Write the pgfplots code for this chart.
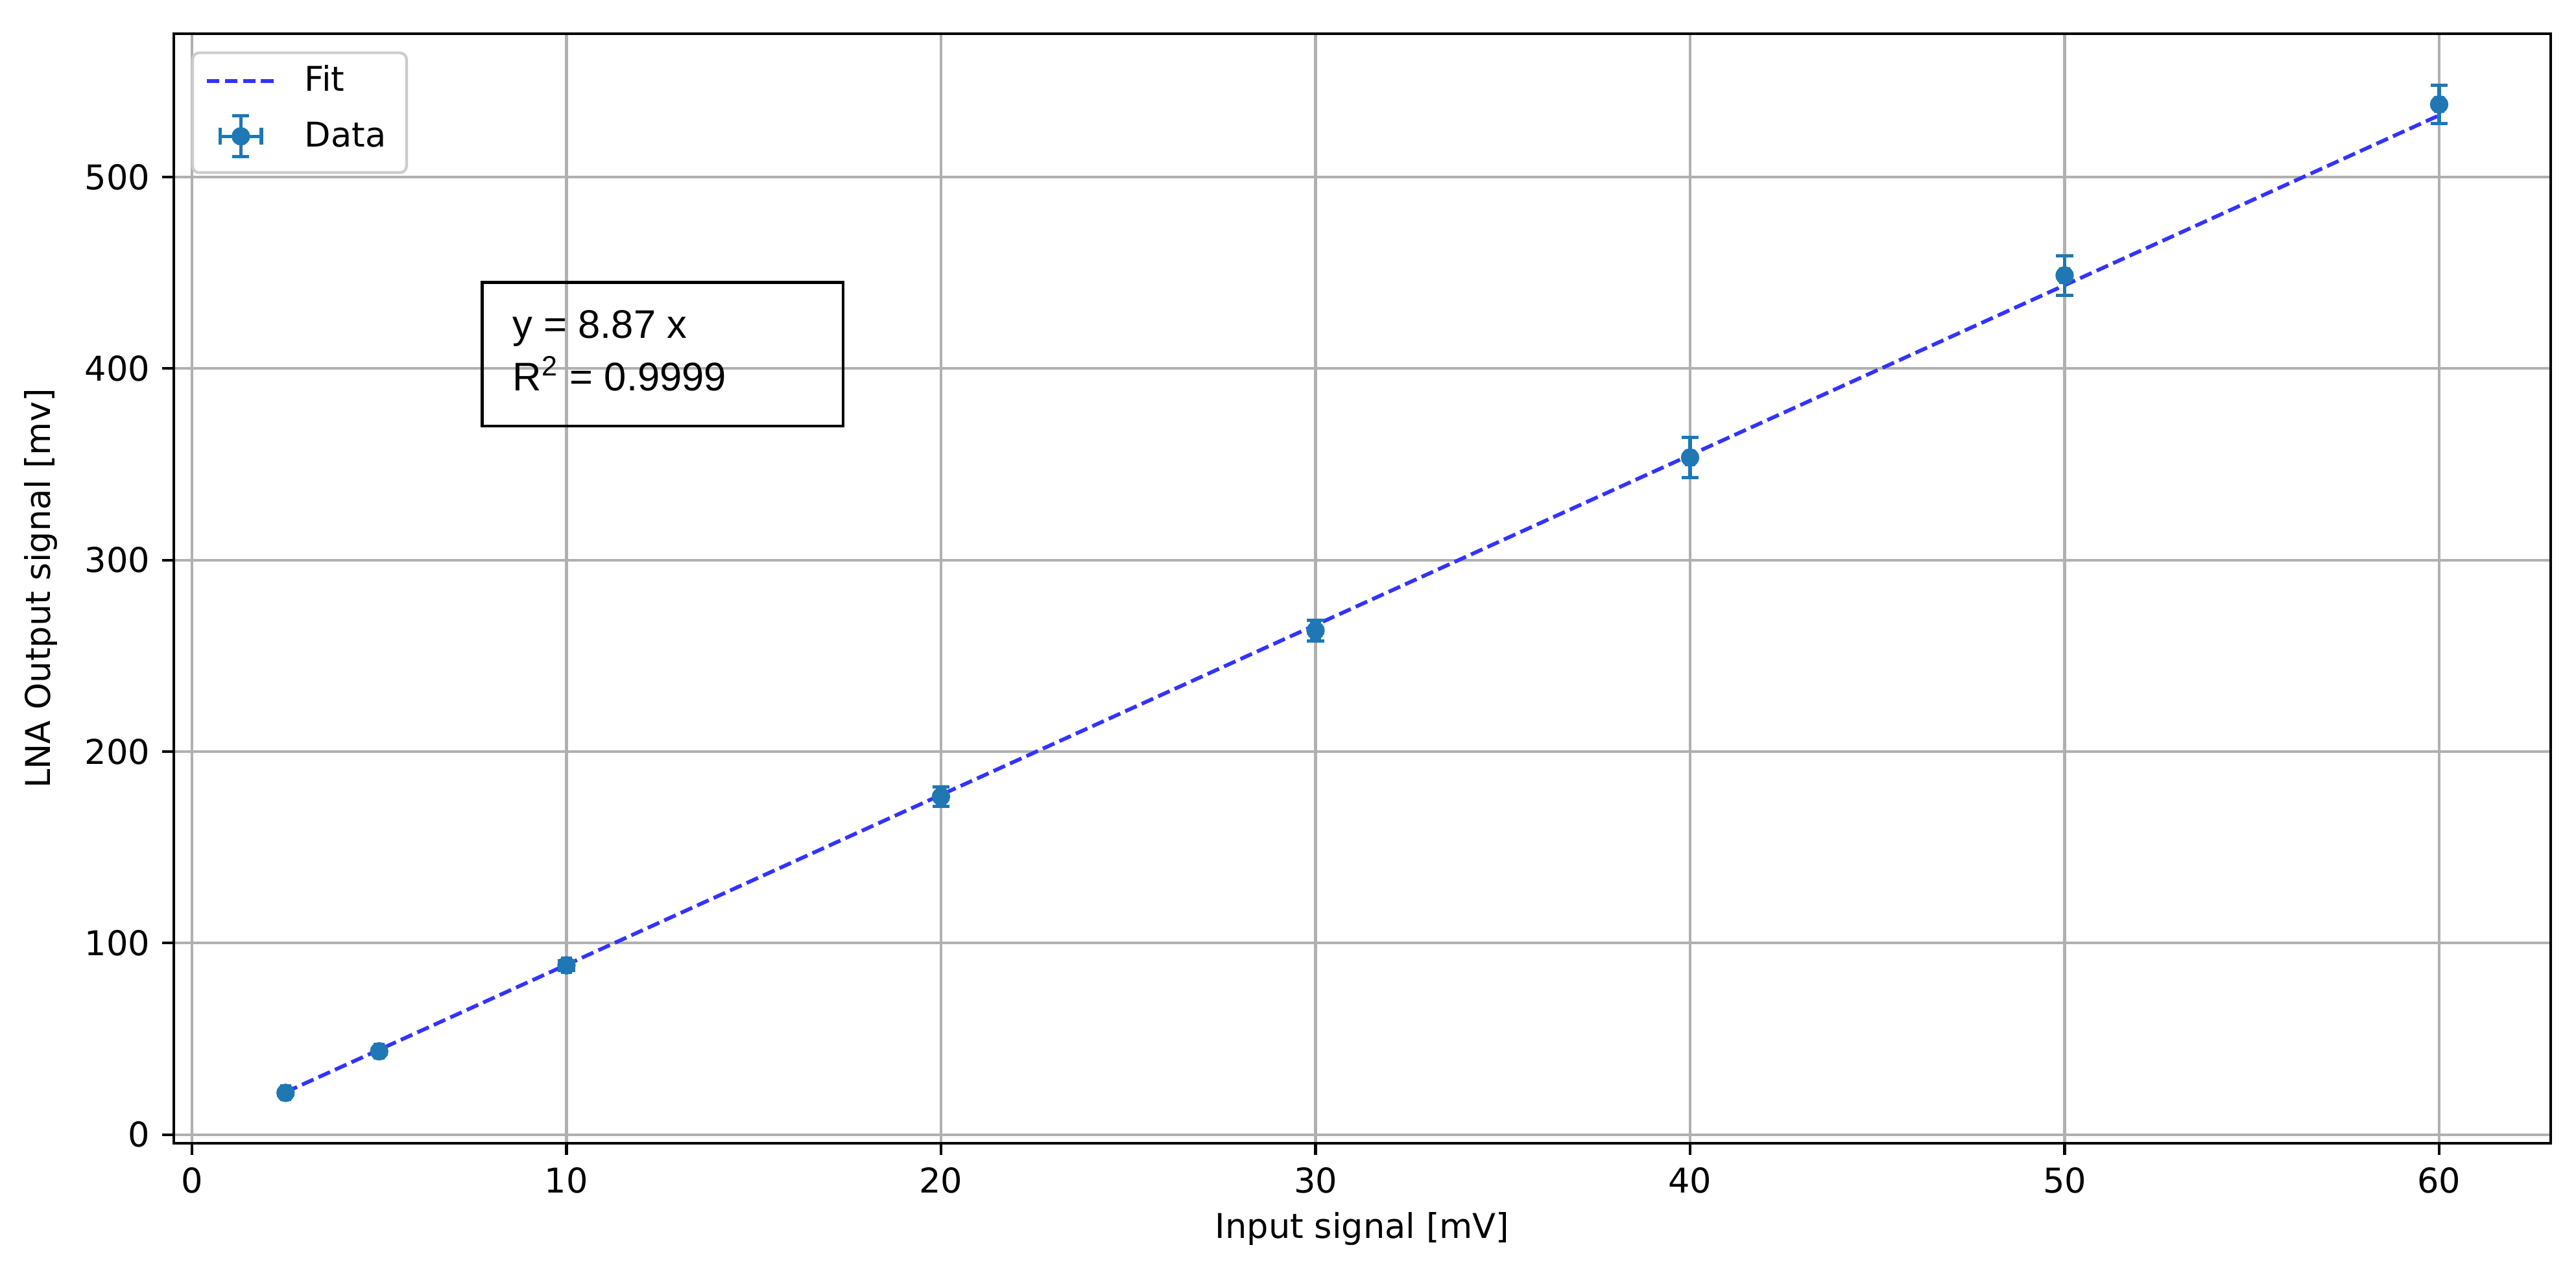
\documentclass[border=0pt]{standalone}
\usepackage{fontspec}
\setmainfont{DejaVu Sans}
\newfontfamily\arialfont{Liberation Sans}
\usepackage{pgfplots}
\pgfplotsset{compat=1.18}
\definecolor{c0}{HTML}{1F77B4}
\definecolor{fitcol}{RGB}{51,51,255}
\definecolor{gridgray}{HTML}{B0B0B0}
\definecolor{legedge}{HTML}{CCCCCC}
\pgfplotstableread{
x y ex ey
2.5 21.8 0.1 1.0
5 43.5 0.1 1.5
10 88.4 0.1 2.5
20 176.5 0.1 5.0
30 263.2 0.1 5.4
40 353.5 0.1 10.5
50 448.6 0.1 10.3
60 537.9 0.1 10.0
}\datatable
\begin{document}
\begin{tikzpicture}
\path[use as bounding box] (-51pt,-37.3pt) rectangle (704.2pt,335.2pt);
\begin{axis}[
  at={(0,0)}, anchor=south west,
  scale only axis, width=696.8pt, height=325.3pt,
  xmin=-0.48, xmax=62.98, ymin=-4.5, ymax=574.8,
  xtick={0,10,...,60}, ytick={0,100,...,500},
  grid=major, major grid style={gridgray, line width=0.8pt},
  axis line style={line width=0.8pt},
  tick align=outside, major tick length=3.5pt,
  tick style={line width=0.8pt, black},
  xtick pos=left, ytick pos=left,
  /pgf/number format/assume math mode=true,
  ticklabel style={font=\fontsize{10}{12}\selectfont},
  label style={font=\fontsize{10}{12}\selectfont},
  xlabel={Input signal [mV]}, ylabel={LNA Output signal [mv]},
  xlabel style={at={(axis description cs:0.5,-0.0772)}, anchor=center},
  ylabel style={at={(axis description cs:-0.056,0.5)}, anchor=center},
  legend cell align=left,
  legend style={at={(axis description cs:0.00783,0.98287)}, anchor=north west,
    draw=none, fill=none,
    font=\fontsize{10}{12}\selectfont, inner xsep=3.4pt, inner ysep=0pt,
    row sep=0pt,
    nodes={inner xsep=2pt, inner ysep=2pt, text height=9.1pt, text depth=3.1pt}},
]
\draw[legedge, fill=white, line width=0.8pt, rounded corners=2pt]
  (axis description cs:0.00783,0.87475) rectangle (axis description cs:0.09787,0.98287);
\addplot[fitcol, line width=1.1pt, dash pattern=on 3.7pt off 1.6pt,
  legend image code/.code={
    \path[draw=none, fill=none] (0pt,-1pt) rectangle (26.7pt,1pt);
    \draw[fitcol, line width=1.1pt, dash pattern=on 3.7pt off 1.6pt, sharp corners] (0pt,0pt)--(20pt,0pt);
  }] coordinates {(2.5,22.175) (60,532.2)};
\addlegendentry{Fit}
\addplot[only marks, mark=*, mark size=2.5pt, color=c0, mark options={fill=c0, draw=c0},
  legend image code/.code={
    \path[draw=none, fill=none] (0pt,-1pt) rectangle (26.7pt,1pt);
    \draw[c0, line width=1pt, sharp corners, solid]
      (4pt,0pt)--(16pt,0pt) (10pt,-6pt)--(10pt,6pt)
      (4pt,-2.5pt)--(4pt,2.5pt) (16pt,-2.5pt)--(16pt,2.5pt)
      (7.5pt,6pt)--(12.5pt,6pt) (7.5pt,-6pt)--(12.5pt,-6pt);
    \fill[c0] (10pt,0pt) circle (2.5pt);
  },
  error bars/.cd, x dir=both, x explicit, y dir=both, y explicit,
  error mark=-, error mark options={rotate=90, line width=1pt, mark size=2.5pt, c0},
  error bar style={line width=1pt, c0}]
  table[x=x, y=y, x error=ex, y error=ey] {\datatable};
\addlegendentry{Data}
\draw[black, line width=0.8pt] (axis cs:7.75,369.9) rectangle (axis cs:17.39,445.0);
\node[anchor=base west, inner sep=0pt, font=\arialfont\fontsize{11.7}{14}\selectfont] at (axis cs:8.55,415.9) {y = 8.87 x};
\node[anchor=base west, inner sep=0pt, font=\arialfont\fontsize{11.7}{14}\selectfont] at (axis cs:8.55,388.5) {R\textsuperscript{2} = 0.9999};
\end{axis}
\end{tikzpicture}
\end{document}
